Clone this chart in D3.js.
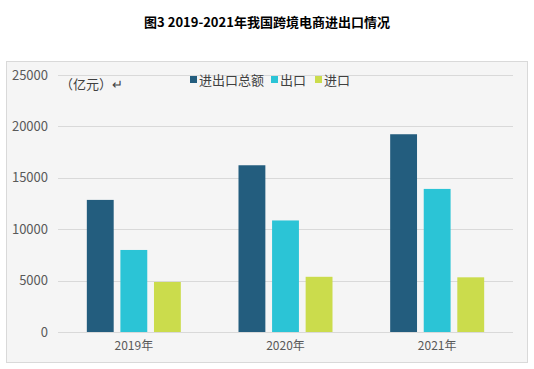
<!DOCTYPE html>
<html><head><meta charset="utf-8">
<script src="https://cdn.jsdelivr.net/npm/d3@7"></script>
<style>body{margin:0;background:#fff}svg{display:block}</style>
</head><body>
<script>
const categories = ["2019年", "2020年", "2021年"];
const seriesNames = ["进出口总额", "出口", "进口"];
const totalValues = [12850, 16220, 19237];
const exportValues = [7981, 10850, 13918];
const importValues = [4867, 5370, 5319];
const yTicks = [0, 5000, 10000, 15000, 20000, 25000];
const colors = ["#235D7E", "#2BC4D6", "#CBDC4C"];
const title = "图3 2019-2021年我国跨境电商进出口情况";
const unitLabel = "（亿元）↵";

const W = 534, H = 369;
const svg = d3.select("body").append("svg").attr("width", W).attr("height", H);
const font = "'Microsoft YaHei','Noto Sans CJK SC',sans-serif";

svg.append("text").attr("x", 267).attr("y", 27).attr("text-anchor", "middle")
  .attr("font-family", "'Noto Sans CJK SC',sans-serif").attr("font-weight", "bold")
  .attr("font-size", 13).attr("fill", "#000").text(title);

svg.append("rect").attr("x", 6.5).attr("y", 61.5).attr("width", 521).attr("height", 301)
  .attr("fill", "#F5F5F5").attr("stroke", "#D9D9D9");

const x0 = d3.scaleBand().domain(categories).range([58, 513]);
const x1 = d3.scaleBand().domain(seriesNames).range([0, 94]).paddingInner(0.2);
const y = d3.scaleLinear().domain([0, 25000]).range([332, 75]);

const grid = svg.append("g");
yTicks.forEach(t => {
  grid.append("line").attr("x1", 58).attr("x2", 513)
    .attr("y1", Math.round(y(t)) + 0.5).attr("y2", Math.round(y(t)) + 0.5)
    .attr("stroke", "#D9D9D9").attr("stroke-width", 1);
});

const yAxis = d3.axisLeft(y).tickValues(yTicks).tickSize(0).tickPadding(0).tickFormat(d3.format("d"));
const ga = svg.append("g").attr("transform", "translate(48,0)").call(yAxis);
ga.select(".domain").remove();
ga.selectAll("text").attr("font-family", font).attr("font-size", 13).attr("fill", "#595959");

const data = categories.map((c, i) => ({c, vals: [totalValues[i], exportValues[i], importValues[i]]}));
const groups = svg.append("g").selectAll("g").data(data).join("g")
  .attr("transform", d => `translate(${x0(d.c) + x0.bandwidth() / 2 - 47},0)`);
groups.selectAll("rect").data(d => d.vals.map((v, j) => ({v, j}))).join("rect")
  .attr("x", d => x1(seriesNames[d.j]))
  .attr("width", x1.bandwidth())
  .attr("y", d => y(d.v))
  .attr("height", d => y(0) - y(d.v))
  .attr("fill", d => colors[d.j]);

const xAxis = d3.axisBottom(x0).tickSize(0).tickPadding(0);
const gx = svg.append("g").attr("transform", "translate(0,341)").call(xAxis);
gx.select(".domain").remove();
gx.selectAll("text").attr("font-family", font).attr("font-size", 12).attr("fill", "#595959");

svg.append("text").attr("x", 60).attr("y", 89).attr("font-family", font)
  .attr("font-size", 13).attr("fill", "#404040").text(unitLabel);

const legendX = [190, 271, 315];
const lg = svg.append("g");
seriesNames.forEach((n, i) => {
  lg.append("rect").attr("x", legendX[i]).attr("y", 76).attr("width", 7).attr("height", 7).attr("fill", colors[i]);
  lg.append("text").attr("x", legendX[i] + 9).attr("y", 84.5).attr("font-family", font)
    .attr("font-size", 13).attr("fill", "#404040").text(n);
});
</script>
</body></html>
